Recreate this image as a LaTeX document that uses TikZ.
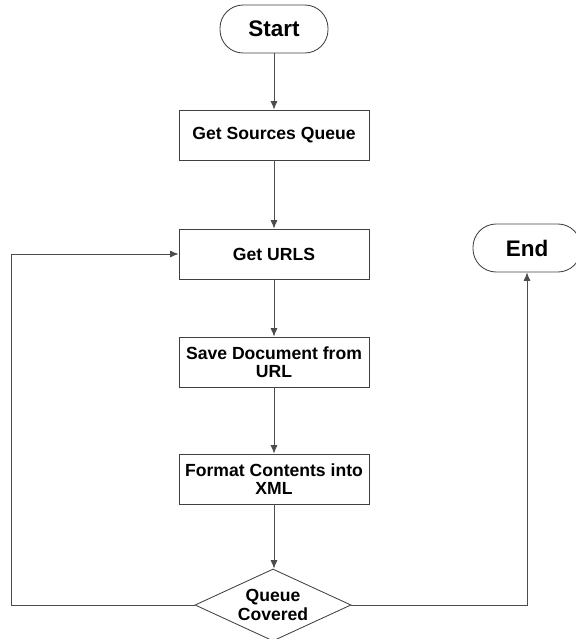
\documentclass[tikz,border=0pt]{standalone}
\usepackage{fontspec}
\setmainfont{Liberation Sans}
\usepackage{tikz}
\usetikzlibrary{shapes.geometric, arrows.meta}

\tikzset{
    terminal/.style={draw=black!75, line width=0.6pt, rounded corners=0.58cm,
        minimum width=2.7cm, minimum height=1.2cm,
        font=\bfseries\fontsize{16}{17}\selectfont},
    process/.style={draw=black!75, line width=0.6pt, rectangle, align=center,
        minimum width=4.75cm, minimum height=1.25cm, inner sep=2pt,
        font=\bfseries\fontsize{12.5}{13}\selectfont},
    decision/.style={draw=black!75, line width=0.6pt, diamond, align=center,
        aspect=2.17, inner sep=0pt, minimum width=3.9cm, minimum height=1.8cm,
        font=\bfseries\fontsize{12.5}{13}\selectfont},
    flow/.style={draw=black!70, line width=0.6pt, -{Latex[length=6pt, width=5pt]}},
    link/.style={draw=black!70, line width=0.6pt}
}

\begin{document}
\begin{tikzpicture}[x=0.025cm, y=-0.025cm]
    \useasboundingbox (0,0) rectangle (576,639);

    % Main column
    \node[terminal] (start) at (274,29) {Start};
    \node[process] (sources) at (274,135) {Get Sources Queue};
    \node[process] (urls) at (274,254) {Get URLS};
    \node[process] (save) at (274,362) {Save Document from\\URL};
    \node[process] (format) at (274,479) {Format Contents into\\XML};
    \node[decision] (covered) at (273,605) {Queue\\Covered};

    % End on the right
    \node[terminal] (finish) at (527,248) {End};

    % Flow down
    \draw[flow] (start) -- (sources);
    \draw[flow] (sources) -- (urls);
    \draw[flow] (urls) -- (save);
    \draw[flow] (save) -- (format);
    \draw[flow] (format.south) -- (covered.north -| format.south);

    % Loop back to Get URLS
    \coordinate (loopleft) at (11,605);
    \draw[link] (covered.west) -- (loopleft);
    \draw[flow] (loopleft) |- (urls.west);

    % Exit to End
    \draw[flow] (covered.east) -| (finish.south);
\end{tikzpicture}
\end{document}
